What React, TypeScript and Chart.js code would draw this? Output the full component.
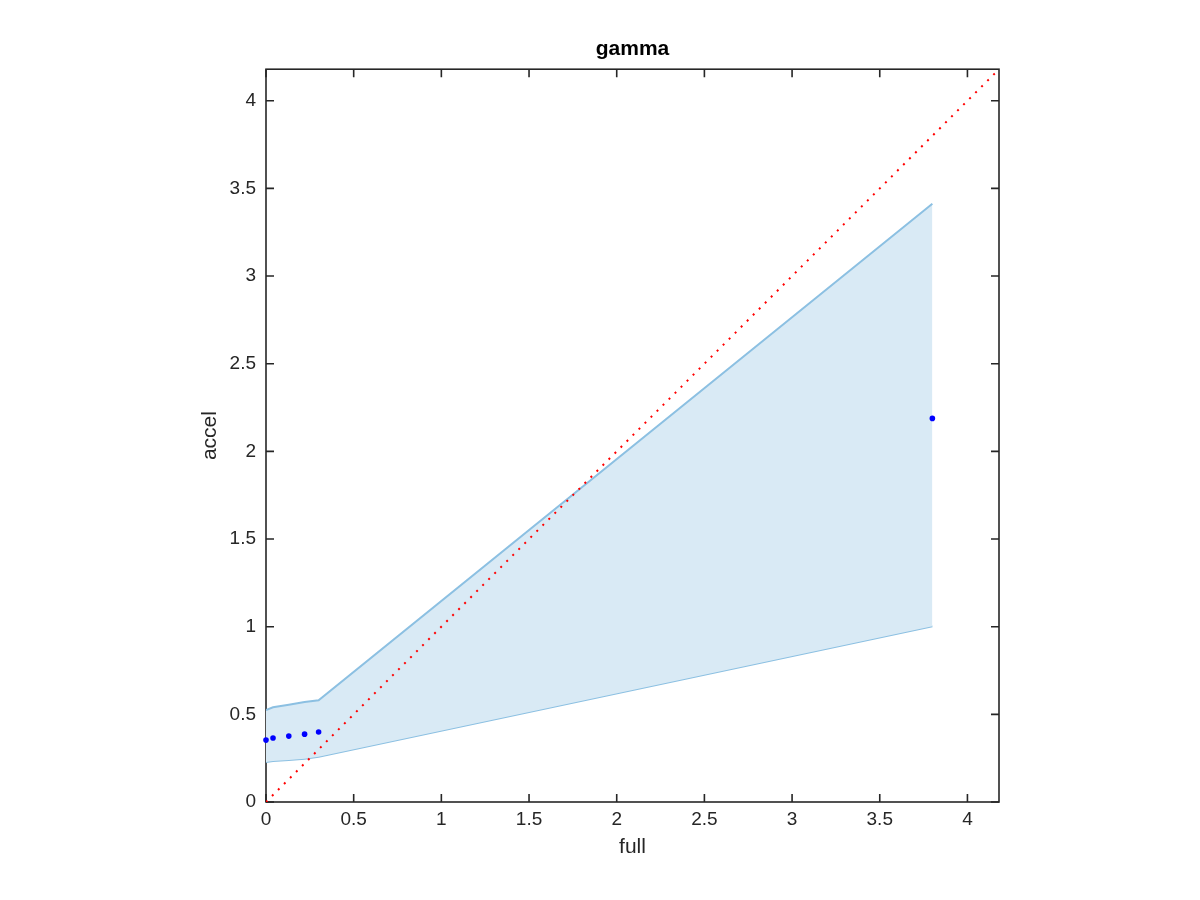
import { useEffect, useRef } from "react";
import { Chart, registerables } from "chart.js";

Chart.register(...registerables);

// ---- Data ----
const pointX = [0, 0.04, 0.13, 0.22, 0.3, 3.8];
const pointY = [0.353, 0.365, 0.376, 0.387, 0.399, 2.188];

const bandX = [0, 0.04, 0.13, 0.22, 0.3, 3.8];
const bandUpper = [0.524, 0.54, 0.555, 0.57, 0.58, 3.413];
const bandLower = [0.228, 0.234, 0.24, 0.247, 0.258, 1.003];

const axisMin = 0;
const axisMax = 4.18;
const diagX = [axisMin, axisMax];

const tickValues = [0, 0.5, 1, 1.5, 2, 2.5, 3, 3.5, 4];
const tickLabels = ["0", "0.5", "1", "1.5", "2", "2.5", "3", "3.5", "4"];

const titleText = "gamma";
const xLabel = "full";
const yLabel = "accel";

// ---- Styles ----
const FONT = "'Liberation Sans', Arial, Helvetica, sans-serif";
const AXIS_COLOR = "#262626";

const framePlugin = {
  id: "frame",
  beforeDatasetsDraw(chart: any) {
    const { ctx, chartArea, scales } = chart;
    const { left, right, top, bottom } = chartArea;
    const xs = scales.x;
    const ys = scales.y;
    ctx.save();
    ctx.strokeStyle = AXIS_COLOR;
    ctx.lineWidth = 1.6;
    ctx.strokeRect(left, top, right - left, bottom - top);
    ctx.beginPath();
    const len = 8;
    tickValues.forEach((v) => {
      const px = xs.getPixelForValue(v);
      ctx.moveTo(px, bottom);
      ctx.lineTo(px, bottom - len);
      ctx.moveTo(px, top);
      ctx.lineTo(px, top + len);
      const py = ys.getPixelForValue(v);
      ctx.moveTo(left, py);
      ctx.lineTo(left + len, py);
      ctx.moveTo(right, py);
      ctx.lineTo(right - len, py);
    });
    ctx.stroke();
    ctx.restore();
  },
};

export default function App() {
  const ref = useRef<HTMLCanvasElement | null>(null);

  useEffect(() => {
    if (!ref.current) return;
    const tickFont = { family: FONT, size: 19 };
    const labelFont = { family: FONT, size: 21 };
    const setTicks = (s: any) => {
      s.ticks = tickValues.map((v) => ({ value: v }));
    };
    const chart = new Chart(ref.current, {
      type: "scatter",
      data: {
        datasets: [
          {
            label: "points",
            data: pointX.map((x, i) => ({ x, y: pointY[i] })),
            pointRadius: 2.8,
            pointBackgroundColor: "#0000ff",
            pointBorderColor: "#0000ff",
            pointBorderWidth: 0,
            showLine: false,
            clip: false,
          } as any,
          {
            label: "diag",
            data: diagX.map((x) => ({ x, y: x })),
            showLine: true,
            pointRadius: 0,
            borderColor: "#ff0000",
            borderWidth: 2,
            borderDash: [2, 6.5],
            borderCapStyle: "butt",
            fill: false,
          } as any,
          {
            label: "upper",
            data: bandX.map((x, i) => ({ x, y: bandUpper[i] })),
            showLine: true,
            pointRadius: 0,
            borderColor: "#8cc0e2",
            borderWidth: 2,
            backgroundColor: "rgba(217,234,245,1)",
            fill: "+1",
          } as any,
          {
            label: "lower",
            data: bandX.map((x, i) => ({ x, y: bandLower[i] })),
            showLine: true,
            pointRadius: 0,
            borderColor: "#8cc0e2",
            borderWidth: 2,
            fill: false,
          } as any,
        ],
      },
      options: {
        responsive: false,
        animation: false,
        devicePixelRatio: 1,
        events: [],
        layout: { padding: { left: 198, right: 201, top: 0, bottom: 40 } },
        plugins: {
          legend: { display: false },
          tooltip: { enabled: false },
          title: {
            display: true,
            text: titleText,
            fullSize: false,
            color: "#000000",
            font: { family: FONT, size: 21, weight: "bold" },
            padding: { top: 37, bottom: 7 },
          },
        },
        scales: {
          x: {
            type: "linear",
            min: axisMin,
            max: axisMax,
            afterBuildTicks: setTicks,
            afterFit: (s: any) => {
              s.height = 58;
            },
            ticks: {
              callback: (_v: any, i: number) => tickLabels[i],
              font: tickFont,
              color: AXIS_COLOR,
              padding: 6,
              maxRotation: 0,
              autoSkip: false,
            },
            grid: { display: false, drawTicks: false },
            border: { display: false },
            title: {
              display: true,
              text: xLabel,
              color: AXIS_COLOR,
              font: labelFont,
              padding: { top: 0, bottom: 0 },
            },
          },
          y: {
            type: "linear",
            min: axisMin,
            max: axisMax,
            afterBuildTicks: setTicks,
            afterFit: (s: any) => {
              s.width = 68;
            },
            ticks: {
              callback: (_v: any, i: number) => tickLabels[i],
              font: tickFont,
              color: AXIS_COLOR,
              padding: 10,
              autoSkip: false,
            },
            grid: { display: false, drawTicks: false },
            border: { display: false },
            title: {
              display: true,
              text: yLabel,
              color: AXIS_COLOR,
              font: labelFont,
              padding: { top: 0, bottom: 0 },
            },
          },
        },
      } as any,
      plugins: [framePlugin],
    });
    return () => chart.destroy();
  }, []);

  return (
    <div style={{ position: "fixed", left: 0, top: 0, width: 1200, height: 900, background: "#fff" }}>
      <canvas ref={ref} width={1200} height={900} style={{ display: "block" }} />
    </div>
  );
}
